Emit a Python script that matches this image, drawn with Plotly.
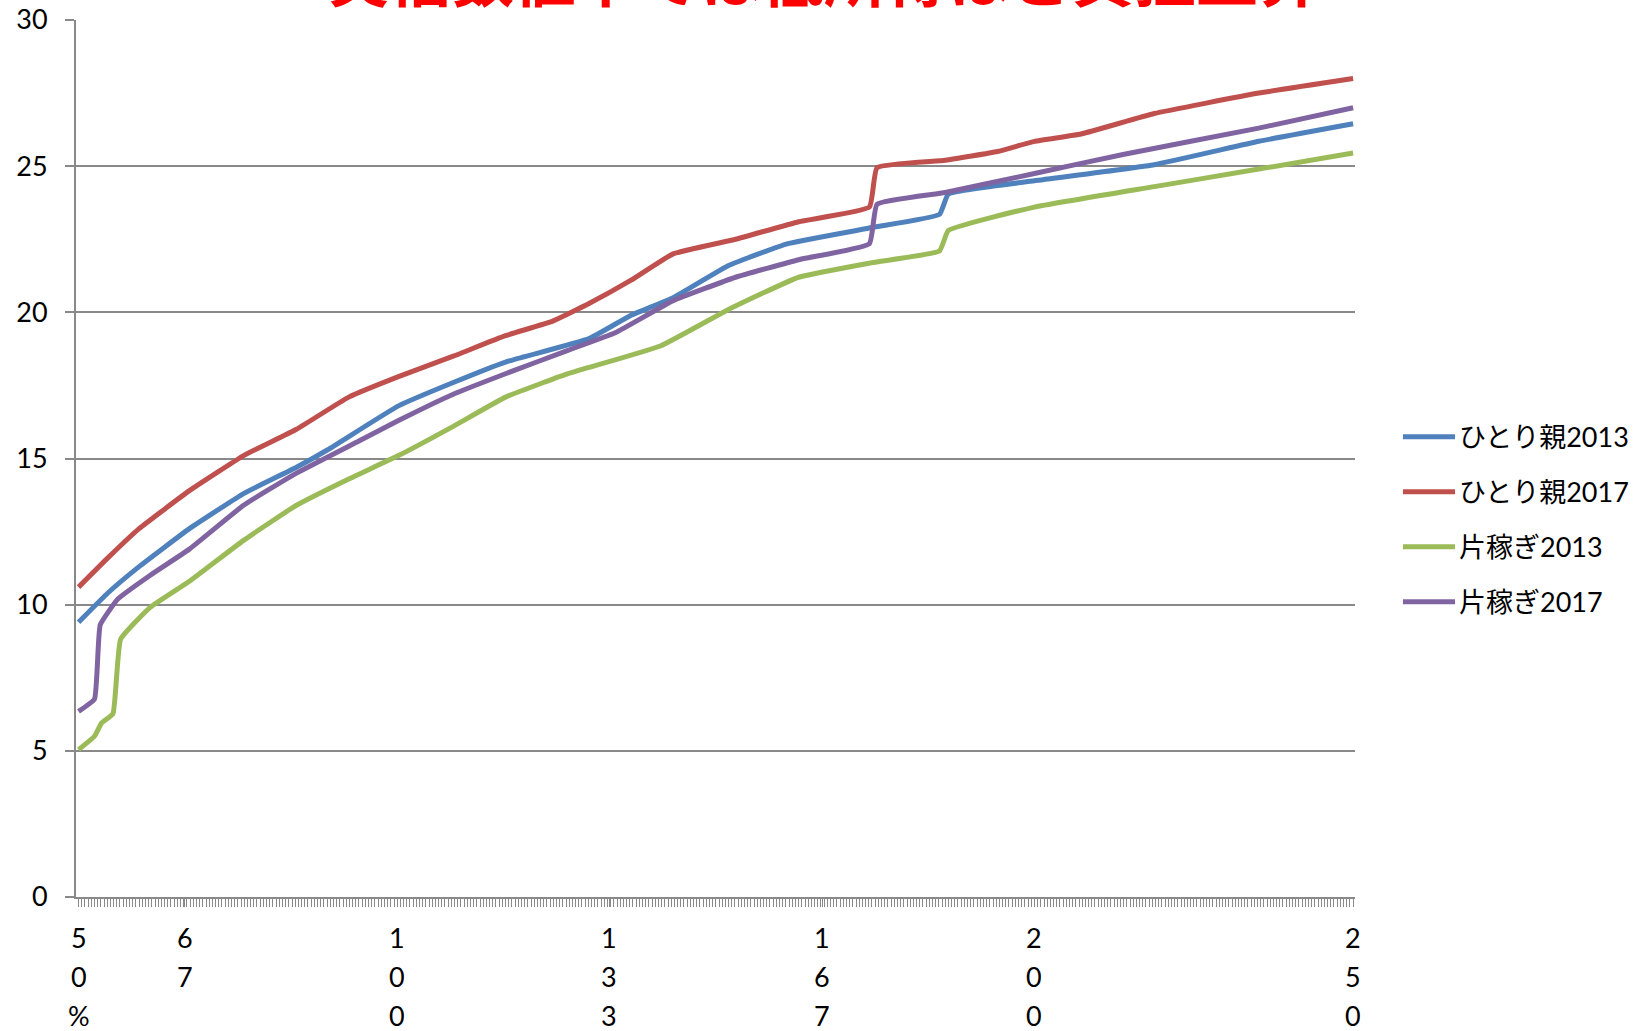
import plotly.graph_objects as go

# Income level (% of reference) and burden ratio (%) for each household type
x_hitori_2013 = [50, 54.6, 59.5, 67.4, 75.9, 84.2, 89.1, 100.2, 108.8, 117, 130.1, 136.7, 143.3, 152,
                 161.3, 174.5, 185.1, 186.5, 200, 218.8, 235.2, 250]
y_hitori_2013 = [9.4, 10.4, 11.3, 12.6, 13.8, 14.7, 15.3, 16.8, 17.6, 18.3, 19.1, 19.9, 20.5, 21.6,
                 22.35, 22.9, 23.35, 24.05, 24.5, 25.05, 25.85, 26.45]

x_hitori_2017 = [50, 54.6, 59.5, 67.4, 75.9, 84.2, 92.4, 100.2, 108.8, 117, 124.4, 130.1, 136.7, 143.3,
                 153.1, 163, 174.1, 175.3, 186, 194.2, 200, 207.3, 218.8, 235.2, 250]
y_hitori_2017 = [10.6, 11.6, 12.6, 13.9, 15.1, 16.0, 17.1, 17.8, 18.5, 19.2, 19.7, 20.3, 21.1, 22.0,
                 22.5, 23.1, 23.6, 24.95, 25.2, 25.5, 25.85, 26.1, 26.8, 27.5, 28.0]

x_katakasegi_2013 = [50, 52.5, 53.6, 55.4, 56.6, 61.2, 67.4, 75.9, 84.2, 92.4, 100.2, 108.8, 117, 126.8,
                     141.3, 152, 163, 174.5, 185.1, 186.5, 200, 218.8, 235.2, 250]
y_katakasegi_2013 = [5.04, 5.5, 5.95, 6.27, 8.82, 9.9, 10.8, 12.2, 13.4, 14.3, 15.1, 16.1, 17.1, 17.9,
                     18.85, 20.1, 21.2, 21.7, 22.1, 22.8, 23.6, 24.3, 24.9, 25.45]

x_katakasegi_2017 = [50, 52.5, 53.4, 56.2, 61.2, 67.4, 75.9, 84.2, 94, 100.2, 108.8, 117, 126.8, 134.2,
                     143.3, 153.1, 163, 174.1, 175.3, 186, 200, 213.9, 235.2, 250]
y_katakasegi_2017 = [6.35, 6.77, 9.31, 10.2, 11.0, 11.9, 13.4, 14.5, 15.6, 16.3, 17.2, 17.9, 18.7, 19.3,
                     20.4, 21.2, 21.8, 22.35, 23.7, 24.1, 24.75, 25.4, 26.3, 27.0]

series_names = ["ひとり親2013", "ひとり親2017", "片稼ぎ2013", "片稼ぎ2017"]
series_colors = ["#4F81BD", "#C0504D", "#9BBB59", "#8064A2"]
series_x = [x_hitori_2013, x_hitori_2017, x_katakasegi_2013, x_katakasegi_2017]
series_y = [y_hitori_2013, y_hitori_2017, y_katakasegi_2013, y_katakasegi_2017]

# Category labels on the income axis
x_tick_values = [50, 66.7, 100, 133.3, 166.7, 200, 250]
x_tick_labels = ["50%", "67", "100", "133", "167", "200", "250"]

title_text = "実倍数値下では低所得ほど負担上昇"

FONT = "Lato, 'Noto Sans CJK JP', sans-serif"
GRID = "#898989"

fig = go.Figure()
for name, color, xs, ys in zip(series_names, series_colors, series_x, series_y):
    fig.add_trace(go.Scatter(x=xs, y=ys, mode="lines", name=name,
                             line=dict(color=color, width=5, shape="spline", smoothing=0.35),
                             showlegend=False))

annotations = []
# Vertically stacked tick labels, one character per row
for val, lab in zip(x_tick_values, x_tick_labels):
    for i, ch in enumerate(lab):
        annotations.append(dict(x=val, y=0, xref="x", yref="paper", text=ch, showarrow=False,
                                xanchor="center", yanchor="middle", yshift=-40 - 39.3 * i,
                                height=29, valign="middle",
                                font=dict(family=FONT, size=27, color="#000000")))

# Legend drawn at the right of the plot
shapes = []
legend_rows = [0.5248, 0.4621, 0.3994, 0.3368]
for name, color, ly in zip(series_names, series_colors, legend_rows):
    shapes.append(dict(type="line", xref="paper", yref="paper", x0=1.0375, x1=1.0782, y0=ly, y1=ly,
                       line=dict(color=color, width=5)))
    annotations.append(dict(x=1.0795, y=ly, xref="paper", yref="paper", text=name, showarrow=False,
                            xanchor="left", yanchor="middle",
                            font=dict(family=FONT, size=27, color="#000000")))

annotations.append(dict(x=0.5845, y=1, xref="paper", yref="paper", text="<b>" + title_text + "</b>",
                        showarrow=False, xanchor="center", yanchor="bottom", yshift=-2,
                        font=dict(family="'Noto Sans CJK JP', sans-serif", size=62, color="#FF0000")))

fig.update_layout(
    width=1644, height=1031,
    margin=dict(l=76, r=289, t=20, b=133.5),
    paper_bgcolor="#FFFFFF", plot_bgcolor="#FFFFFF",
    annotations=annotations, shapes=shapes,
)
fig.update_xaxes(
    range=[49.6, 250.3], showgrid=False, zeroline=False, automargin=False,
    tickvals=x_tick_values, ticktext=[""] * len(x_tick_values),
    ticks="outside", ticklen=8, tickcolor=GRID, tickwidth=1,
    minor=dict(ticks="outside", ticklen=8, tickcolor=GRID, tickwidth=1, dtick=0.5, tick0=50, showgrid=False),
    showline=True, linecolor=GRID, linewidth=2,
)
fig.update_yaxes(
    range=[0, 30], dtick=5, showgrid=True, gridcolor=GRID, gridwidth=2, zeroline=False, automargin=False,
    ticks="outside", ticklen=9, tickcolor=GRID, tickwidth=2,
    showline=True, linecolor=GRID, linewidth=2,
    tickfont=dict(family=FONT, size=27, color="#000000"), ticklabelstandoff=12,
)

fig.write_html("out.html")
